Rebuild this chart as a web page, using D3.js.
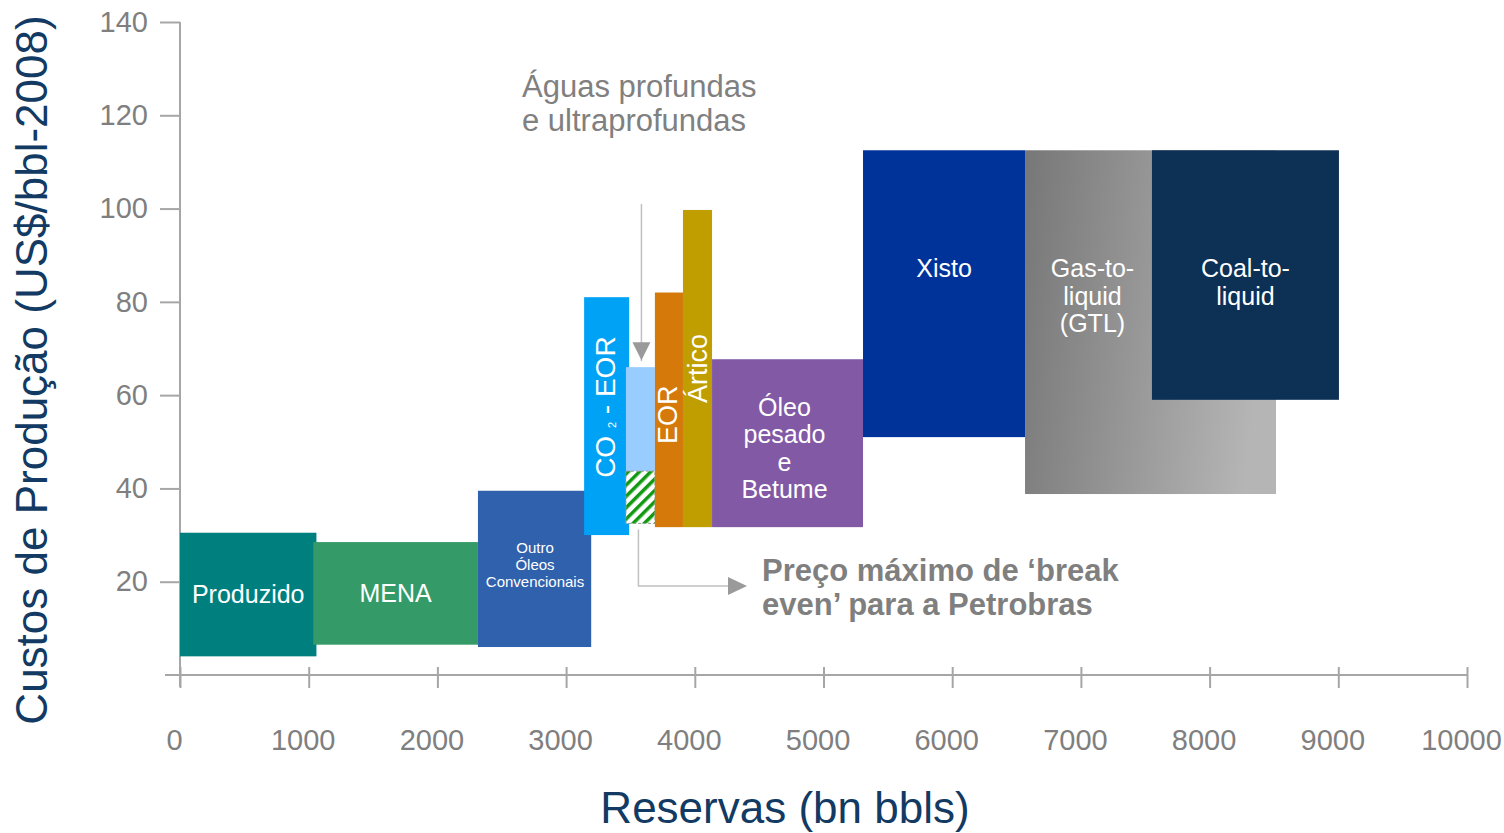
<!DOCTYPE html>
<html>
<head>
<meta charset="utf-8">
<script src="https://cdn.jsdelivr.net/npm/d3@7"></script>
<style>
  body { margin: 0; background: #fff; }
  svg text { font-family: "Liberation Sans", Arial, sans-serif; }
</style>
</head>
<body>
<div class="container"></div>
<script>
// reservas (bn bbls) x custo de produção (US$/bbl-2008)
const categories = ['Produzido', 'MENA', 'Outro', 'CO2-EOR', 'Aguas', 'AguasBE', 'EOR', 'Artico', 'Oleo', 'Xisto', 'GTL', 'CTL']
const reservaIni = [0, 1035, 2315, 3140, 3465, 3465, 3690, 3908, 4134, 5307, 6566, 7552]
const reservaFim = [1060, 2315, 3195, 3490, 3690, 3690, 3908, 4134, 5307, 6566, 8516, 9005]
const custoMin = [4, 6.5, 6, 30, 43.7, 32.5, 31.7, 31.7, 31.7, 51, 38.8, 59]
const custoMax = [30.5, 28.5, 39.5, 81, 66, 43.7, 82, 99.7, 67.7, 112.5, 112.5, 112.5]
const colors = ['#007f7f', '#349a67', '#3061ad', '#00a2f5', '#99ccff', 'url(#hatch)', '#d4790a', '#c09e00', '#8259a5', '#003399', 'url(#gtl)', '#0d3055']
const labels = [['Produzido'], ['MENA'], ['Outro', 'Óleos', 'Convencionais'], [], [], [], [], [], ['Óleo', 'pesado', 'e', 'Betume'], ['Xisto'], ['Gas-to-', 'liquid', '(GTL)'], ['Coal-to-', 'liquid']]
const rotLabels = [null, null, null, 'CO2', null, null, 'EOR', 'Ártico', null, null, null, null]

const xTicks = d3.range(0, 10001, 1000)
const yTicks = [20, 40, 60, 80, 100, 120, 140]

const width = 1504
const height = 833

const x = d3.scaleLinear().domain([0, 10000]).range([180, 1467])
const y = d3.scaleLinear().domain([0, 140]).range([675, 22])

const grey = '#a6a6a6'
const tickGrey = '#7f7f7f'
const navy = '#123a63'

const svg = d3.select('.container')
    .append('svg')
    .attr('width', width)
    .attr('height', height)

const defs = svg.append('defs')
const grad = defs.append('linearGradient')
    .attr('id', 'gtl')
    .attr('x1', 0).attr('y1', 0).attr('x2', 1).attr('y2', 0.15)
grad.append('stop').attr('offset', '0%').attr('stop-color', '#777777')
grad.append('stop').attr('offset', '100%').attr('stop-color', '#b5b5b5')

const hatch = defs.append('pattern')
    .attr('id', 'hatch')
    .attr('patternUnits', 'userSpaceOnUse')
    .attr('width', 8).attr('height', 8)
    .attr('patternTransform', 'rotate(45)')
hatch.append('rect').attr('width', 8).attr('height', 8).attr('fill', '#fff')
hatch.append('rect').attr('width', 3.5).attr('height', 8).attr('fill', '#119911')

const data = categories.map((c, i) => ({
    id: c,
    x0: reservaIni[i], x1: reservaFim[i],
    lo: custoMin[i], hi: custoMax[i],
    color: colors[i], lines: labels[i], rot: rotLabels[i]
}))

// axes
const yAxis = svg.append('g')
    .attr('transform', `translate(${x(0)},0)`)
    .call(d3.axisLeft(y).tickValues(yTicks).tickSize(20).tickPadding(12))
yAxis.select('.domain').remove()
yAxis.selectAll('line').attr('stroke', grey).attr('stroke-width', 2)
yAxis.selectAll('text').attr('fill', tickGrey).attr('font-size', 29).attr('font-family', '"Liberation Sans", Arial')

const xAxis = svg.append('g')
    .attr('transform', `translate(0,${y(0)})`)
    .call(d3.axisBottom(x).tickValues(xTicks).tickFormat(d3.format('d')).tickSize(12))
xAxis.select('.domain').remove()
xAxis.selectAll('line').attr('y1', -8).attr('y2', 13).attr('stroke', grey).attr('stroke-width', 2)
xAxis.selectAll('text').attr('fill', tickGrey).attr('font-size', 29).attr('font-family', '"Liberation Sans", Arial')
    .attr('y', 75).attr('dy', 0).attr('dx', -6)

svg.append('line')
    .attr('x1', x(0)).attr('x2', x(0))
    .attr('y1', y(140)).attr('y2', y(0) + 12)
    .attr('stroke', grey).attr('stroke-width', 2)
svg.append('line')
    .attr('x1', x(0) - 15).attr('x2', x(10000))
    .attr('y1', y(0)).attr('y2', y(0))
    .attr('stroke', grey).attr('stroke-width', 2)

// blocos
svg.append('g')
    .selectAll('rect')
    .data(data)
    .join('rect')
    .attr('x', d => x(d.x0))
    .attr('y', d => y(d.hi))
    .attr('width', d => x(d.x1) - x(d.x0))
    .attr('height', d => y(d.lo) - y(d.hi))
    .attr('fill', d => d.color)
    .attr('stroke', d => d.id === 'AguasBE' ? '#999' : 'none')
    .attr('stroke-dasharray', '3,2')

// rótulos horizontais
data.filter(d => d.lines.length).forEach(d => {
    const small = d.id === 'Outro'
    const fs = small ? 15 : 25
    const lh = small ? 17 : 27.3
    // centro da parte visível do bloco (o seguinte pode cobri-lo)
    const cover = data.find(o => o.x0 > d.x0 && o.x0 < d.x1 && o.hi >= d.hi)
    const end = cover ? cover.x0 : d.x1
    const cx = (x(d.x0) + x(end)) / 2 + (cover ? 4 : d.lines.length > 3 ? -3 : 0)
    const topAligned = d.hi > 110
    const firstBase = topAligned
        ? y(d.hi) + 127
        : (y(d.hi) + y(d.lo)) / 2 - (d.lines.length - 1) * lh / 2 + fs * 0.35 + (small ? -4 : d.lines.length > 1 ? 5 : 0)
    const t = svg.append('text')
        .attr('text-anchor', 'middle')
        .attr('fill', '#fff')
        .attr('font-size', fs)
    d.lines.forEach((l, i) => {
        t.append('tspan').attr('x', cx).attr('y', firstBase + i * lh).text(l)
    })
})

// rótulos verticais
data.filter(d => d.rot).forEach(d => {
    const cx = (x(d.x0) + x(d.x1)) / 2
    const cy = (y(d.hi) + y(d.lo)) / 2
    const t = svg.append('text')
        .attr('text-anchor', 'middle')
        .attr('fill', '#fff')
        .attr('font-size', 27)
    if (d.rot === 'CO2') {
        t.attr('font-size', 28)
        t.append('tspan').text('CO ')
        t.append('tspan').attr('font-size', 11).attr('dy', 1).text('2')
        t.append('tspan').attr('dy', -1).text('  - EOR')
        t.attr('transform', `translate(${cx + 8},${cy - 9}) rotate(-90)`)
    } else if (d.rot === 'EOR') {
        t.text(d.rot).attr('transform', `translate(${cx + 8},${cy + 5}) rotate(-90)`)
    } else {
        t.text(d.rot).attr('transform', `translate(${cx + 9},${cy}) rotate(-90)`)
    }
})

// anotação águas profundas
const aguas = data.find(d => d.id === 'Aguas')
const ax = (x(aguas.x0) + x(aguas.x1)) / 2 + 1
svg.append('text')
    .attr('fill', '#808080')
    .attr('font-size', 31)
    .selectAll('tspan')
    .data(['Águas profundas', 'e ultraprofundas'])
    .join('tspan')
    .attr('x', 522)
    .attr('y', (d, i) => 97 + i * 34)
    .text(d => d)
svg.append('line')
    .attr('x1', ax).attr('x2', ax)
    .attr('y1', y(101)).attr('y2', y(aguas.hi) - 6)
    .attr('stroke', '#c0c0c0').attr('stroke-width', 1.5)
svg.append('path')
    .attr('d', `M${ax - 9},${y(aguas.hi) - 25}L${ax + 9},${y(aguas.hi) - 25}L${ax},${y(aguas.hi) - 7}Z`)
    .attr('fill', '#9a9a9a')

// break even
const be = data.find(d => d.id === 'AguasBE')
const bx = ax - 3
const by = 586
svg.append('path')
    .attr('d', `M${bx},${y(be.lo) + 6}V${by}H${729}`)
    .attr('fill', 'none')
    .attr('stroke', '#c0c0c0').attr('stroke-width', 1.5)
svg.append('path')
    .attr('d', `M728,${by - 9}L747,${by}L728,${by + 9}Z`)
    .attr('fill', '#9a9a9a')
svg.append('text')
    .attr('fill', '#7f7f7f')
    .attr('font-size', 31)
    .attr('font-weight', 'bold')
    .selectAll('tspan')
    .data(['Preço máximo de ‘break', 'even’ para a Petrobras'])
    .join('tspan')
    .attr('x', 762)
    .attr('y', (d, i) => 581 + i * 34)
    .text(d => d)

// títulos dos eixos
svg.append('text')
    .attr('x', 785).attr('y', 823)
    .attr('text-anchor', 'middle')
    .attr('fill', navy)
    .attr('font-size', 44)
    .text('Reservas (bn bbls)')
svg.append('text')
    .attr('transform', 'translate(47,370) rotate(-90)')
    .attr('text-anchor', 'middle')
    .attr('fill', navy)
    .attr('font-size', 44)
    .text('Custos de Produção (US$/bbl-2008)')
</script>
</body>
</html>
